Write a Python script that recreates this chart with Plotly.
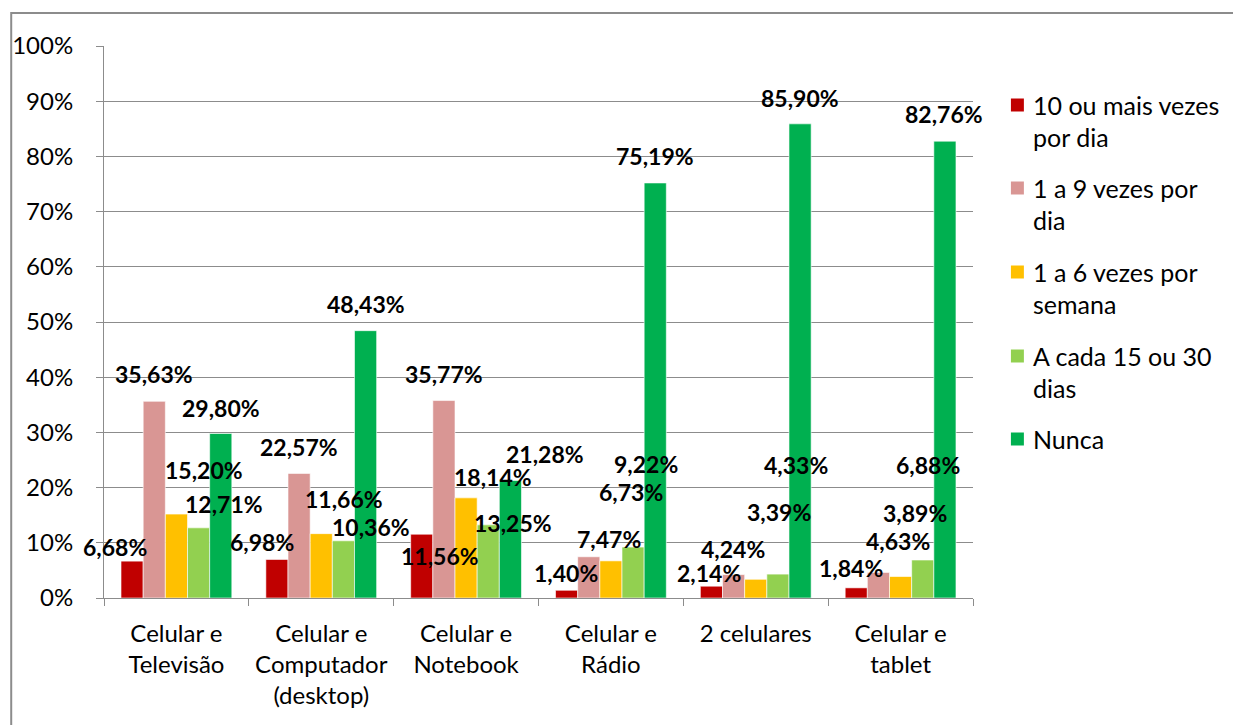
import plotly.graph_objects as go

# Categories (device pairs) and the five frequency series, in percent
categories = [
    "Celular e<br>Televisão",
    "Celular e<br>Computador<br>(desktop)",
    "Celular e<br>Notebook",
    "Celular e<br>Rádio",
    "2 celulares",
    "Celular e<br>tablet",
]
series_names = [
    "10 ou mais vezes por dia",
    "1 a 9 vezes por dia",
    "1 a 6 vezes por semana",
    "A cada 15 ou 30 dias",
    "Nunca",
]
legend_lines = [
    ["10 ou mais vezes", "por dia"],
    ["1 a 9 vezes por", "dia"],
    ["1 a 6 vezes por", "semana"],
    ["A cada 15 ou 30", "dias"],
    ["Nunca"],
]
dez_ou_mais = [6.68, 6.98, 11.56, 1.40, 2.14, 1.84]
um_a_nove_dia = [35.63, 22.57, 35.77, 7.47, 4.24, 4.63]
um_a_seis_semana = [15.20, 11.66, 18.14, 6.73, 3.39, 3.89]
quinze_trinta_dias = [12.71, 10.36, 13.25, 9.22, 4.33, 6.88]
nunca = [29.80, 48.43, 21.28, 75.19, 85.90, 82.76]
series_values = [dez_ou_mais, um_a_nove_dia, um_a_seis_semana, quinze_trinta_dias, nunca]

y_tick_values = [0, 10, 20, 30, 40, 50, 60, 70, 80, 90, 100]
y_tick_labels = ["0%", "10%", "20%", "30%", "40%", "50%", "60%", "70%", "80%", "90%", "100%"]

colors = ["#C00000", "#D99694", "#FFC000", "#92D050", "#00B050"]

# Pixel nudges (dx right, dy up from bar top) for each value label
label_dx = [
    [-17, -15, 18, 0, -2, -5],
    [0, 0, 0, 20, -1, 20],
    [28, 23, 27, 20, 23, 14],
    [25, 28, 25, 13, 18, 5],
    [0, 0, 34, 0, 0, -1],
]
label_dy = [
    [14, 17, -22, 17, 13, 20],
    [27, 26, 27, 18, 26, 31],
    [44, 35, 21, 69, 67, 64],
    [24, 14, 2, 83, 109, 95],
    [26, 27, 27, 27, 26, 27],
]

W, H = 1233, 725
M_L, M_R, M_T, M_B = 102, 260, 46, 127
PLOT_W = W - M_L - M_R
PLOT_H = H - M_T - M_B
BARGAP = 0.235
FONT = "Lato"
TEXT_SIZE = 24
LABEL_SIZE = 23
GRID = "#8C8C8C"

cat_px = PLOT_W / len(categories)
bar_px = cat_px * (1 - BARGAP) / len(series_values)

fig = go.Figure()
for name, vals, col in zip(series_names, series_values, colors):
    fig.add_trace(go.Bar(
        x=categories, y=vals, name=name,
        marker=dict(color=col, line=dict(color="white", width=0.6)),
        showlegend=False, hoverinfo="skip",
    ))

def fmt(v):
    return f"{v:.2f}".replace(".", ",") + "%"

annotations = []
for j, vals in enumerate(series_values):
    offset = (j - (len(series_values) - 1) / 2) * bar_px
    for i, v in enumerate(vals):
        annotations.append(dict(
            x=categories[i], y=v, xref="x", yref="y",
            text=f"<b>{fmt(v)}</b>", showarrow=False,
            xanchor="center", yanchor="middle",
            xshift=offset + label_dx[j][i], yshift=label_dy[j][i],
            font=dict(family=FONT, size=LABEL_SIZE, color="#000000"),
        ))

# Legend drawn beside the plot: colour square plus wrapped text lines
def px_to_paper_x(px):
    return (px - M_L) / PLOT_W

def px_to_paper_y(py):
    return (H - M_B - py) / PLOT_H

shapes = []
legend_first_line = [105, 188, 272, 356, 439]
LINE_STEP = 32
for k, (lines, col) in enumerate(zip(legend_lines, colors)):
    yc = legend_first_line[k]
    shapes.append(dict(
        type="rect", xref="paper", yref="paper",
        x0=px_to_paper_x(1011), x1=px_to_paper_x(1024),
        y0=px_to_paper_y(yc - 6.5), y1=px_to_paper_y(yc + 6.5),
        fillcolor=col, line=dict(width=0),
    ))
    for n, line in enumerate(lines):
        annotations.append(dict(
            x=px_to_paper_x(1031), y=px_to_paper_y(yc + n * LINE_STEP),
            xref="paper", yref="paper", text=line, showarrow=False,
            xanchor="left", yanchor="middle",
            font=dict(family=FONT, size=TEXT_SIZE + 1, color="#000000"),
        ))

# Outer chart border
shapes.append(dict(
    type="rect", xref="paper", yref="paper",
    x0=px_to_paper_x(9), x1=px_to_paper_x(W + 20),
    y0=px_to_paper_y(H + 20), y1=px_to_paper_y(13),
    line=dict(color="#8C8C8C", width=2), fillcolor="rgba(0,0,0,0)",
    layer="below",
))

fig.update_layout(
    width=W, height=H,
    margin=dict(l=M_L, r=M_R, t=M_T, b=M_B, pad=0),
    paper_bgcolor="white", plot_bgcolor="white",
    barmode="group", bargap=BARGAP, bargroupgap=0,
    font=dict(family=FONT, size=TEXT_SIZE, color="#000000"),
    annotations=annotations, shapes=shapes,
    showlegend=False,
)
fig.update_xaxes(
    type="category", range=[-0.5, len(categories) - 0.5], showgrid=False,
    showline=True, linecolor=GRID, linewidth=1,
    ticks="outside", tickson="boundaries", ticklen=7, tickcolor=GRID,
    tickfont=dict(family=FONT, size=TEXT_SIZE, color="#000000"),
    ticklabelstandoff=14,
)
fig.update_yaxes(
    range=[0, 100], tickvals=y_tick_values, ticktext=y_tick_labels,
    showgrid=True, gridcolor=GRID, gridwidth=1,
    showline=True, linecolor=GRID, linewidth=1,
    ticks="outside", ticklen=7, tickcolor=GRID,
    tickfont=dict(family=FONT, size=TEXT_SIZE, color="#000000"),
    ticklabelstandoff=18, zeroline=False,
)

fig.write_html("out.html")
